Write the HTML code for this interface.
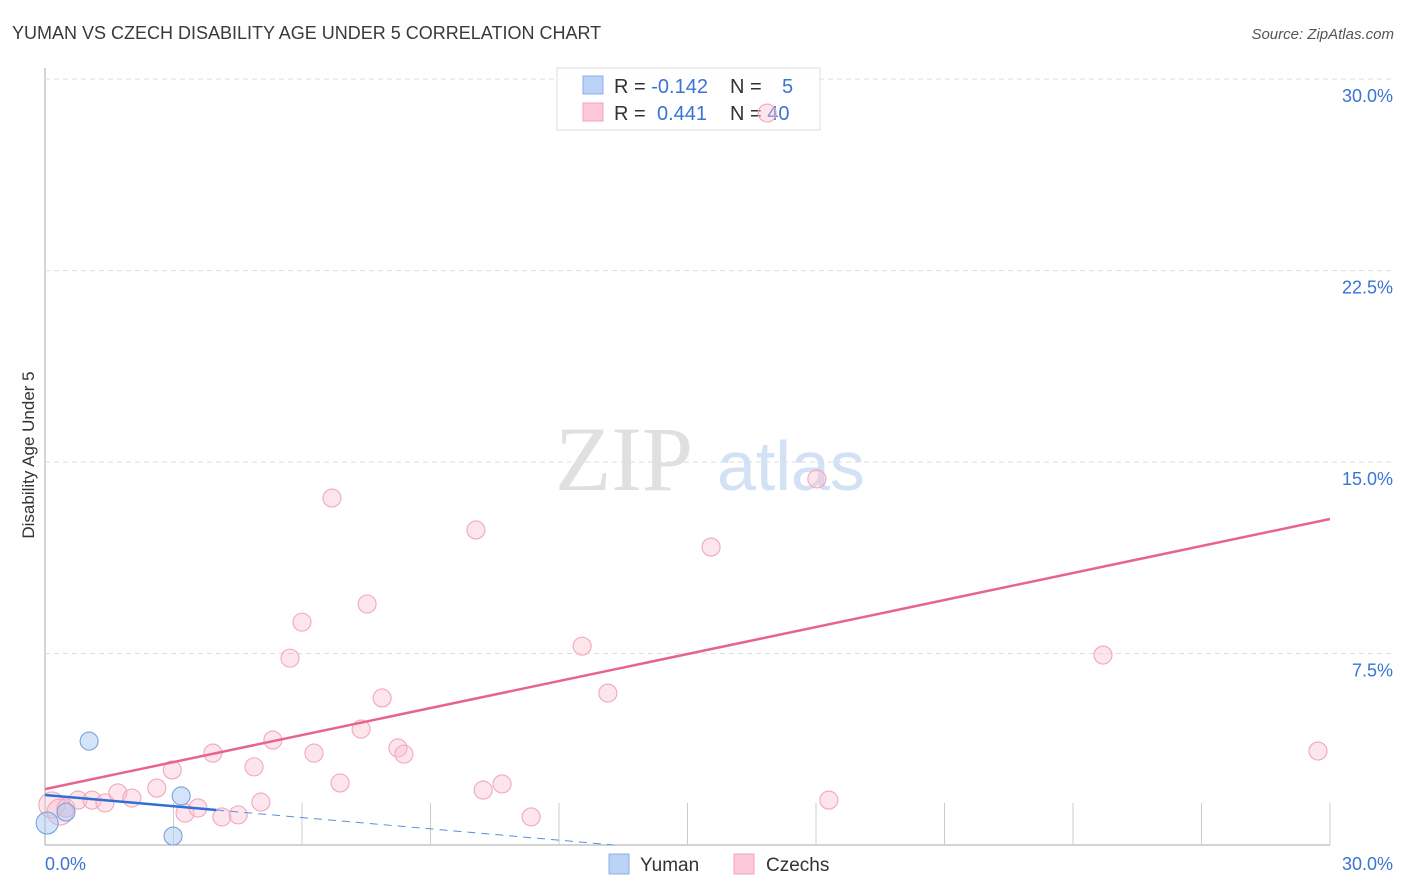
<!DOCTYPE html>
<html><head><meta charset="utf-8"><style>
body{margin:0;background:#fff;font-family:"Liberation Sans",sans-serif}
svg{display:block}
</style></head><body>
<svg width="1406" height="892" xmlns="http://www.w3.org/2000/svg">
<text x="12" y="39" font-size="18" fill="#3a3a3a">YUMAN VS CZECH DISABILITY AGE UNDER 5 CORRELATION CHART</text>
<text x="1394" y="39" font-size="15" fill="#555" font-style="italic" text-anchor="end">Source: ZipAtlas.com</text>
<g id="grid"></g>
<text x="555" y="490" font-size="92" fill="#e0e0e0" font-family="Liberation Serif">ZIP</text>
<text x="717" y="490" font-size="70" fill="#d3e1f4">atlas</text>
<text x="34" y="455" font-size="17" fill="#333" text-anchor="middle" transform="rotate(-90 34 455)">Disability Age Under 5</text>
<g id="marks"></g>
<g>
<rect x="557" y="68" width="263" height="62" fill="#fff" fill-opacity="0.85" stroke="#ddd"/>
<rect x="583" y="76" width="20" height="18" fill="#b9d2f5" stroke="#8ab0e8"/>
<rect x="583" y="103" width="20" height="18" fill="#fcc9d8" stroke="#f1a3bb"/>
<text x="614" y="93" font-size="20" fill="#333">R = <tspan fill="#3a74d4">-0.142</tspan></text>
<text x="730" y="93" font-size="20" fill="#333">N = <tspan fill="#3a74d4" x="782">5</tspan></text>
<text x="614" y="120" font-size="20" fill="#333">R = <tspan fill="#3a74d4" x="657">0.441</tspan></text>
<text x="730" y="120" font-size="20" fill="#333">N = <tspan fill="#3a74d4">40</tspan></text>
</g>
<g>
<rect x="609" y="854" width="20" height="20" fill="#b9d2f5" stroke="#8ab0e8"/>
<text x="640" y="871" font-size="19" fill="#333">Yuman</text>
<rect x="734" y="854" width="20" height="20" fill="#fcc9d8" stroke="#f1a3bb"/>
<text x="766" y="871" font-size="19" fill="#333">Czechs</text>
</g>
</svg>
<script>
const yTicks=[7.5,15,22.5,30];
const xTickLabels=["0.0%","30.0%"];
const czechX=[0.16,0.35,0.49,0.77,1.10,1.40,1.70,2.03,2.61,2.97,3.27,3.57,3.92,4.13,4.51,4.88,5.04,5.32,5.72,6.00,6.28,6.70,6.89,7.38,7.52,7.87,8.24,8.38,10.06,10.23,10.67,11.35,12.54,13.14,15.55,16.86,18.02,18.30,24.70,29.72];
const czechY=[1.57,1.29,1.45,1.76,1.76,1.65,2.04,1.84,2.23,2.94,1.25,1.45,3.60,1.10,1.18,3.06,1.68,4.11,7.32,8.73,3.60,13.59,2.43,4.54,9.44,5.76,3.80,3.56,12.34,2.15,2.39,1.10,7.79,5.95,11.67,28.67,14.34,1.76,7.44,3.68];
const yumanX=[0.05,0.49,1.03,3.18,2.99];
const yumanY=[0.86,1.29,4.07,1.92,0.35];
const czechTrend=[2.19,12.77];
const yumanTrend=[1.96,1.37];
const NS="http://www.w3.org/2000/svg";
const sx=v=>45+v/30*1285, sy=v=>845-v*25.53;
function mk(t,a,p){const e=document.createElementNS(NS,t);for(const k in a)e.setAttribute(k,a[k]);p.appendChild(e);return e;}
const g=document.getElementById('grid'), m=document.getElementById('marks'), svg=document.querySelector('svg');
let ax=mk('line',{x1:45,y1:68,x2:45,y2:845,stroke:'#aaa'},g);


let bx=mk('line',{x1:45,y1:845,x2:1330,y2:845,stroke:'#aaa'},g);


for(let i=1;i<=10;i++){const x=sx(i*3);const t=mk('line',{x1:x,y1:803,x2:x,y2:845,stroke:'#ccc'},g);

}
yTicks.forEach(v=>{const y=sy(v);const l=mk('line',{x1:45,y1:y,x2:1394,y2:y,stroke:'#ddd','stroke-dasharray':'5,4'},g);


const t=mk('text',{x:1393,y:y+23,'font-size':18,fill:'#3a74d4','text-anchor':'end'},g);t.textContent=v.toFixed(1)+'%';

});
xTickLabels.forEach((s,i)=>{const t=mk('text',{x:i?1393:45,y:870,'font-size':18,fill:'#3a74d4','text-anchor':i?'end':'start'},g);t.textContent=s;

});
czechX.forEach((x,i)=>{const r=i<2?13:9;const c=mk('circle',{cx:sx(x),cy:sy(czechY[i]),r:r,fill:'rgba(250,190,208,0.4)',stroke:'#f2a6bd','stroke-width':1.1},sy(czechY[i])<135?svg:m);

});
yumanX.forEach((x,i)=>{const c=mk('circle',{cx:sx(x),cy:sy(yumanY[i]),r:i==0?11:9,fill:'rgba(170,200,240,0.5)',stroke:'#79a3e0','stroke-width':1.1},m);

});
let pl=mk('line',{x1:sx(0),y1:sy(czechTrend[0]),x2:sx(30),y2:sy(czechTrend[1]),stroke:'#e8648e','stroke-width':2.5},m);


const slope=(yumanTrend[1]-yumanTrend[0])/4, xEnd=-yumanTrend[0]/slope;
let bl=mk('line',{x1:sx(0),y1:sy(yumanTrend[0]),x2:sx(4),y2:sy(yumanTrend[1]),stroke:'#2f6fd6','stroke-width':2.5},m);


let bd=mk('line',{x1:sx(4),y1:sy(yumanTrend[1]),x2:sx(xEnd),y2:sy(0),stroke:'#5a8ede','stroke-width':1,'stroke-dasharray':'8,6'},m);


</script>
</body></html>
